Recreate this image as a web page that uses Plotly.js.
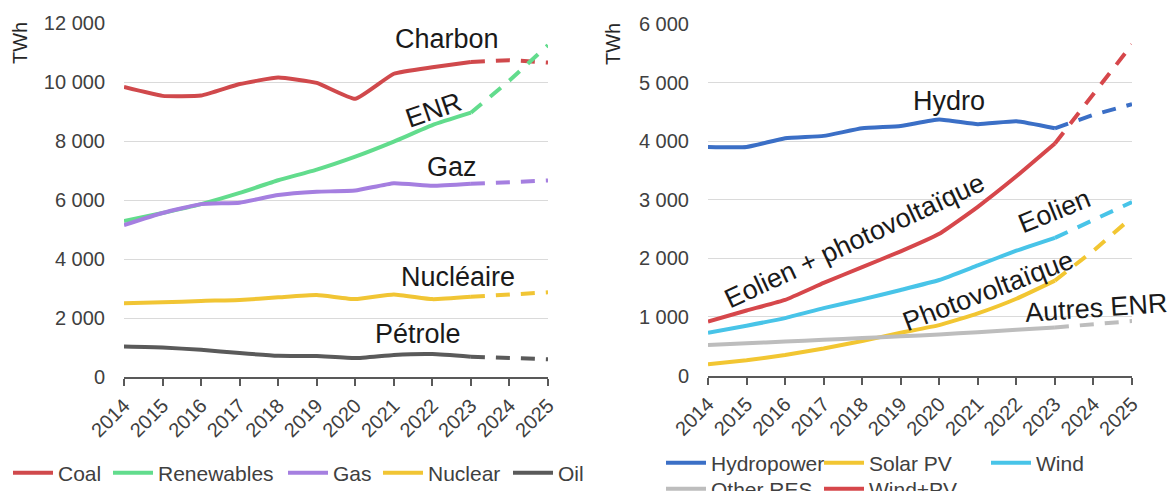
<!DOCTYPE html>
<html>
<head>
<meta charset="utf-8">
<script src="https://cdn.plot.ly/plotly-3.0.1.min.js"></script>
<style>html,body{margin:0;padding:0;background:#fff;}#chart{width:1172px;height:491px;}</style>
</head>
<body>
<div id="chart"></div>
<script>
// ---- data ----
const years = [2014, 2015, 2016, 2017, 2018, 2019, 2020, 2021, 2022, 2023, 2024, 2025];
const lastActualIndex = 9; // 2023: solid up to here, dashed afterwards

// Left chart (TWh)
const coal       = [9830, 9530, 9540, 9930, 10150, 9970, 9430, 10280, 10500, 10680, 10740, 10660];
const renewables = [5290, 5560, 5860, 6240, 6670, 7030, 7470, 7980, 8540, 8960, 10050, 11250];
const gas        = [5150, 5560, 5860, 5910, 6170, 6280, 6320, 6570, 6480, 6550, 6620, 6660];
const nuclear    = [2500, 2530, 2580, 2610, 2700, 2780, 2640, 2800, 2640, 2720, 2780, 2870];
const oil        = [1030, 1000, 920, 810, 720, 710, 640, 750, 780, 690, 640, 600];

// Right chart (TWh)
const hydropower = [3900, 3900, 4050, 4090, 4220, 4260, 4370, 4290, 4340, 4220, 4450, 4630];
const solarPV    = [190, 260, 350, 460, 590, 730, 860, 1060, 1310, 1620, 2130, 2700];
const wind       = [730, 850, 980, 1150, 1300, 1460, 1630, 1880, 2130, 2350, 2650, 2960];
const otherRES   = [520, 550, 580, 610, 640, 670, 700, 740, 780, 820, 870, 930];
const windPV     = [920, 1110, 1290, 1580, 1850, 2120, 2420, 2880, 3400, 3960, 4800, 5650];

const leftNames  = ['Coal', 'Renewables', 'Gas', 'Nuclear', 'Oil'];
const rightNames = ['Hydropower', 'Solar PV', 'Wind', 'Other RES', 'Wind+PV'];

const leftLabels = [
  {text: 'Charbon', x: 2022.38, y: 11450, angle: 0},
  {text: 'ENR', x: 2022.04, y: 9050, angle: -19},
  {text: 'Gaz', x: 2022.51, y: 7120, angle: 0},
  {text: 'Nucléaire', x: 2022.67, y: 3380, angle: 0},
  {text: 'Pétrole', x: 2021.63, y: 1450, angle: 0}
];
const rightLabels = [
  {text: 'Hydro', x: 2020.25, y: 4690, angle: 0},
  {text: 'Eolien + photovoltaïque', x: 2017.79, y: 2300, angle: -25},
  {text: 'Eolien', x: 2023.0, y: 2800, angle: -22},
  {text: 'Photovoltaïque', x: 2021.26, y: 1450, angle: -21},
  {text: 'Autres ENR', x: 2024.07, y: 1150, angle: -4}
];

// ---- styling ----
const FONT = 'Liberation Sans, Arial, sans-serif';
const leftColors  = ['#d0494c', '#62dc8d', '#a57fe0', '#f1c534', '#5a5a5a'];
const rightColors = ['#3b6fc6', '#f2c632', '#48c4e8', '#bdbdbd', '#d6474b'];
// legend entry anchor positions (px): [x of line start, y centre]
const leftLegendPos  = [[15, 473], [115, 473], [290, 473], [385, 473], [515, 473]];
const rightLegendPos = [[668, 463], [826, 463], [993, 463], [668, 489], [826, 489]];

const leftSeries  = leftNames.map((n, i) => ({name: n, values: [coal, renewables, gas, nuclear, oil][i], color: leftColors[i]}));
const rightSeries = rightNames.map((n, i) => ({name: n, values: [hydropower, solarPV, wind, otherRES, windPV][i], color: rightColors[i]}));

const traces = [];
const legendLayouts = {};
let legendCount = 0;
function legendKey() { legendCount += 1; return legendCount === 1 ? 'legend' : 'legend' + legendCount; }

const legendBase = {
  orientation: 'h', xanchor: 'left', yanchor: 'middle', itemwidth: 40,
  font: {family: FONT, size: 21, color: '#404040'}, bgcolor: 'rgba(0,0,0,0)',
  itemclick: false, itemdoubleclick: false
};

function addSeries(s, xa, ya, pos) {
  const key = legendKey();
  legendLayouts[key] = Object.assign({}, legendBase, {x: (pos[0] - 7) / 1172, y: 1 - pos[1] / 491});
  traces.push({
    x: years.slice(0, lastActualIndex + 1), y: s.values.slice(0, lastActualIndex + 1),
    xaxis: xa, yaxis: ya, type: 'scatter', mode: 'lines', name: s.name,
    line: {color: s.color, width: 4, shape: 'spline', smoothing: 0.4},
    legend: key, hoverinfo: 'x+y+name'
  });
  traces.push({
    x: years.slice(lastActualIndex), y: s.values.slice(lastActualIndex),
    xaxis: xa, yaxis: ya, type: 'scatter', mode: 'lines', name: s.name + ' (prévision)',
    line: {color: s.color, width: 4, dash: '14px,11px'},
    showlegend: false, hoverinfo: 'x+y+name'
  });
}
leftSeries.forEach((s, i) => addSeries(s, 'x', 'y', leftLegendPos[i]));
rightSeries.forEach((s, i) => addSeries(s, 'x2', 'y2', rightLegendPos[i]));

const annotations = [];
leftLabels.forEach(l => annotations.push({
  text: l.text, x: l.x, y: l.y, xref: 'x', yref: 'y', showarrow: false,
  textangle: l.angle, font: {family: FONT, size: 27, color: '#1a1a1a'}
}));
rightLabels.forEach(l => annotations.push({
  text: l.text, x: l.x, y: l.y, xref: 'x2', yref: 'y2', showarrow: false,
  textangle: l.angle, font: {family: FONT, size: 27, color: '#1a1a1a'}
}));
// axis unit titles (placed at the top of each axis)
annotations.push({text: 'TWh', xref: 'paper', yref: 'paper', x: 20/1172, y: 1 - 43/491,
  xanchor: 'center', yanchor: 'middle',
  showarrow: false, textangle: -90, font: {family: FONT, size: 20, color: '#262626'}});
annotations.push({text: 'TWh', xref: 'paper', yref: 'paper', x: 613/1172, y: 1 - 44/491,
  xanchor: 'center', yanchor: 'middle',
  showarrow: false, textangle: -90, font: {family: FONT, size: 20, color: '#262626'}});

function xAxis(domain, anchor) {
  return {
    domain: domain, anchor: anchor, range: [2014, 2025], tickmode: 'array', tickvals: years,
    ticktext: years.map(String), tickangle: -45, showgrid: false, zeroline: false,
    showline: true, linecolor: '#595959', linewidth: 2, ticks: 'outside', ticklen: 7,
    tickwidth: 2, tickcolor: '#595959', tickfont: {family: FONT, size: 20, color: '#404040'},
    fixedrange: true
  };
}
function yAxis(domain, anchor, range, dtick) {
  return {
    domain: domain, anchor: anchor, range: range, dtick: dtick, tick0: 0,
    showgrid: true, gridcolor: '#dadada', gridwidth: 1, zeroline: false, showline: false,
    ticks: '', ticklabelstandoff: 18, tickformat: ',d',
    tickfont: {family: FONT, size: 20, color: '#404040'}, fixedrange: true
  };
}

const layout = Object.assign({
  width: 1172, height: 491, paper_bgcolor: '#ffffff', plot_bgcolor: '#ffffff',
  margin: {l: 0, r: 0, t: 0, b: 0, autoexpand: false},
  separators: ', ',
  font: {family: FONT},
  showlegend: true,
  xaxis: xAxis([124/1172, 548/1172], 'y'),
  yaxis: yAxis([1 - 377/491, 1 - 23/491], 'x', [0, 12000], 2000),
  xaxis2: xAxis([708/1172, 1132/1172], 'y2'),
  yaxis2: yAxis([1 - 375.5/491, 1 - 24/491], 'x2', [0, 6000], 1000),
  annotations: annotations
}, legendLayouts);

Plotly.newPlot('chart', traces, layout, {displayModeBar: false, staticPlot: true});
</script>
</body>
</html>
